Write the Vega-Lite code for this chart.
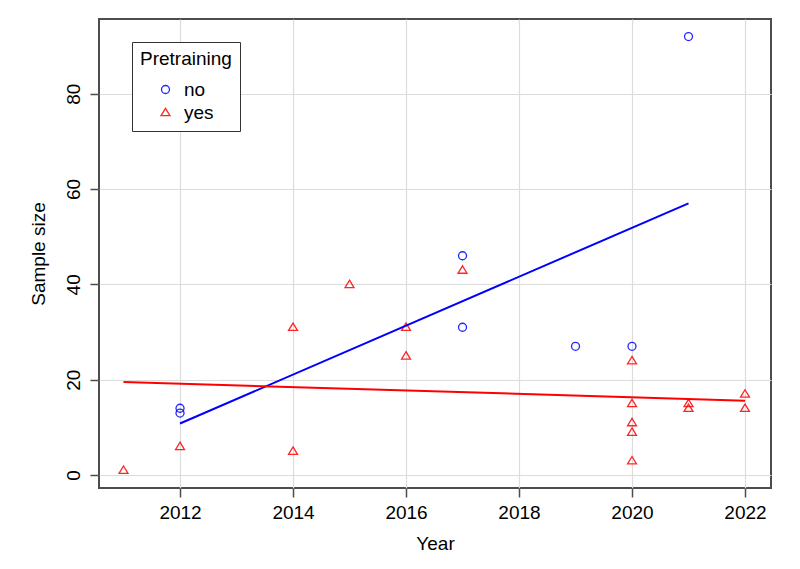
{
  "$schema": "https://vega.github.io/schema/vega-lite/v6.json",
  "width": 672,
  "height": 469,
  "autosize": {"type": "none"},
  "padding": {"left": 99, "top": 19, "right": 29, "bottom": 81},
  "background": "white",
  "config": {
    "font": "Liberation Sans",
    "view": {"stroke": "#4d4d4d", "strokeWidth": 2},
    "axis": {
      "domain": false,
      "grid": true,
      "gridColor": "#dcdcdc",
      "gridWidth": 1.2,
      "tickColor": "#4d4d4d",
      "tickWidth": 1.5,
      "tickSize": 9,
      "labelFont": "Liberation Sans",
      "labelFontSize": 19,
      "labelColor": "black",
      "titleFont": "Liberation Sans",
      "titleFontSize": 19,
      "titleFontWeight": "normal",
      "titleColor": "black"
    },
    "legend": {
      "fillColor": "white",
      "strokeColor": "#333333",
      "padding": 8,
      "titleFontSize": 19,
      "titleFontWeight": "normal",
      "titleColor": "black",
      "titlePadding": 11,
      "labelFontSize": 19,
      "labelColor": "black",
      "symbolSize": 64,
      "symbolStrokeWidth": 1.3,
      "symbolOffset": 16,
      "labelOffset": 9,
      "rowPadding": 3
    }
  },
  "datasets": {
    "points": [
      {"Year": 2012, "Size": 14, "Pretraining": "no"},
      {"Year": 2012, "Size": 13, "Pretraining": "no"},
      {"Year": 2017, "Size": 46, "Pretraining": "no"},
      {"Year": 2017, "Size": 31, "Pretraining": "no"},
      {"Year": 2019, "Size": 27, "Pretraining": "no"},
      {"Year": 2020, "Size": 27, "Pretraining": "no"},
      {"Year": 2021, "Size": 92, "Pretraining": "no"},
      {"Year": 2011, "Size": 1, "Pretraining": "yes"},
      {"Year": 2012, "Size": 6, "Pretraining": "yes"},
      {"Year": 2014, "Size": 5, "Pretraining": "yes"},
      {"Year": 2014, "Size": 31, "Pretraining": "yes"},
      {"Year": 2015, "Size": 40, "Pretraining": "yes"},
      {"Year": 2016, "Size": 31, "Pretraining": "yes"},
      {"Year": 2016, "Size": 25, "Pretraining": "yes"},
      {"Year": 2017, "Size": 43, "Pretraining": "yes"},
      {"Year": 2020, "Size": 24, "Pretraining": "yes"},
      {"Year": 2020, "Size": 15, "Pretraining": "yes"},
      {"Year": 2020, "Size": 11, "Pretraining": "yes"},
      {"Year": 2020, "Size": 9, "Pretraining": "yes"},
      {"Year": 2020, "Size": 3, "Pretraining": "yes"},
      {"Year": 2021, "Size": 15, "Pretraining": "yes"},
      {"Year": 2021, "Size": 14, "Pretraining": "yes"},
      {"Year": 2022, "Size": 17, "Pretraining": "yes"},
      {"Year": 2022, "Size": 14, "Pretraining": "yes"}
    ],
    "fits": [
      {"Year": 2012, "Size": 10.8, "Pretraining": "no"},
      {"Year": 2021, "Size": 57.0, "Pretraining": "no"},
      {"Year": 2011, "Size": 19.5, "Pretraining": "yes"},
      {"Year": 2022, "Size": 15.6, "Pretraining": "yes"}
    ]
  },
  "encoding": {
    "x": {
      "field": "Year",
      "type": "quantitative",
      "scale": {"domain": [2010.566, 2022.46], "nice": false, "zero": false},
      "axis": {"values": [2012, 2014, 2016, 2018, 2020, 2022], "format": "d", "title": "Year", "labelPadding": 6, "titlePadding": 12}
    },
    "y": {
      "field": "Size",
      "type": "quantitative",
      "scale": {"domain": [-2.73, 95.68], "nice": false, "zero": false},
      "axis": {"values": [0, 20, 40, 60, 80], "title": "Sample size", "labelAngle": -90, "labelPadding": 7, "titlePadding": 16}
    }
  },
  "layer": [
    {
      "data": {"name": "points"},
      "mark": {"type": "point", "filled": false, "size": 64, "strokeWidth": 1.3, "opacity": 0.85},
      "encoding": {
        "shape": {
          "field": "Pretraining",
          "type": "nominal",
          "scale": {"domain": ["no", "yes"], "range": ["circle", "M0,-1.05L1.12,0.8L-1.12,0.8Z"]},
          "legend": {"title": "Pretraining", "orient": "none", "legendX": 33, "legendY": 23}
        },
        "color": {
          "field": "Pretraining",
          "type": "nominal",
          "scale": {"domain": ["no", "yes"], "range": ["#0000ff", "#ff0000"]},
          "legend": {"title": "Pretraining", "orient": "none", "legendX": 33, "legendY": 23}
        }
      }
    },
    {
      "data": {"name": "fits"},
      "transform": [{"filter": "datum.Pretraining === 'no'"}],
      "mark": {"type": "line", "strokeWidth": 2, "color": "#0000ff"},
      "encoding": {}
    },
    {
      "data": {"name": "fits"},
      "transform": [{"filter": "datum.Pretraining === 'yes'"}],
      "mark": {"type": "line", "strokeWidth": 2, "color": "#ff0000"},
      "encoding": {}
    }
  ]
}
